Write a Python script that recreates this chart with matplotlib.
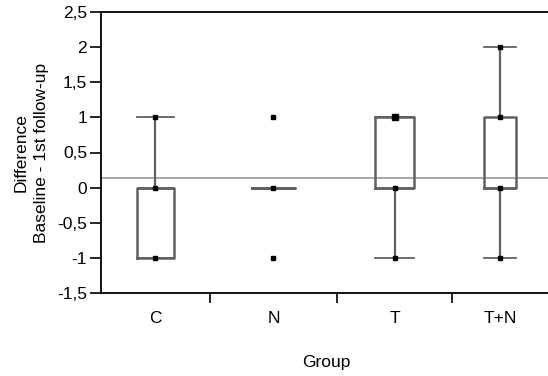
import numpy as np
import matplotlib.pyplot as plt

plt.rcParams['font.family'] = ['Liberation Sans', 'DejaVu Sans']

groups = ['C', 'N', 'T', 'T+N']
n_per_group = [34, 40, 36, 30]          # sets the widths of the group columns
q1 = [-1, 0, 0, 0]
med = [0, 0, 0, 0]
q3 = [0, 0, 1, 1]
whis_lo = [-1, 0, -1, -1]
whis_hi = [1, 0, 1, 2]
points = [[1, 0, -1], [1, 0, -1], [1, 0, -1], [2, 1, 0, -1]]
point_size = [[2.6, 2.6, 2.6], [2.6, 2.6, 2.6], [4, 2.6, 2.6], [2.6, 2.6, 2.6, 2.6]]
grand_mean = 0.14
yticks = [-1.5, -1, -0.5, 0, 0.5, 1, 1.5, 2, 2.5]

edges = np.concatenate([[0], np.cumsum(n_per_group)])
centers = (edges[:-1] + edges[1:]) / 2
widths = 0.34 * np.array(n_per_group)

fig = plt.figure(figsize=(5.48, 3.76), dpi=100)
ax = fig.add_axes([101/548, 1 - 293/376, 1 - 101/548, 281/376])

stats = []
for i in range(len(groups)):
    stats.append(dict(q1=q1[i], med=med[i], q3=q3[i],
                      whislo=whis_lo[i], whishi=whis_hi[i], fliers=[]))

gray = '#606060'
ax.axhline(grand_mean, color='#999999', lw=1.2, zorder=1)
ax.bxp(stats, positions=centers, widths=widths, capwidths=widths,
       showfliers=False, manage_ticks=False,
       boxprops=dict(color=gray, lw=1.8),
       medianprops=dict(color=gray, lw=1.8),
       whiskerprops=dict(color=gray, lw=1.6),
       capprops=dict(color=gray, lw=1.3))

for c, pts, sz in zip(centers, points, point_size):
    for p, s in zip(pts, sz):
        ax.plot(c, p, 's', color='black', ms=s, zorder=5)

ax.set_xlim(edges[0], edges[-1])
ax.set_ylim(-1.5, 2.5)
ax.set_yticks(yticks)
ax.set_yticklabels([('%g' % v).replace('.', ',') for v in yticks], fontsize=12.5)

ax.set_xticks(edges[1:-1])
ax.set_xticklabels([])
ax.set_xticks(centers, minor=True)
ax.set_xticklabels(groups, minor=True, fontsize=12.5)
ax.tick_params(axis='x', which='major', length=7, width=1.2, direction='out')
ax.tick_params(axis='x', which='minor', length=0, pad=13)
ax.tick_params(axis='y', length=8, width=1.2, pad=2)

ax.spines['right'].set_visible(False)
for s in ['left', 'top', 'bottom']:
    ax.spines[s].set_linewidth(1.3)

ax.set_ylabel('Difference\nBaseline - 1st follow-up', fontsize=12.5,
              labelpad=6, linespacing=1.4)
ax.set_xlabel('Group', fontsize=12.5)
ax.xaxis.set_label_coords(0.505, -0.22)

fig.savefig('out.png', dpi=100)
